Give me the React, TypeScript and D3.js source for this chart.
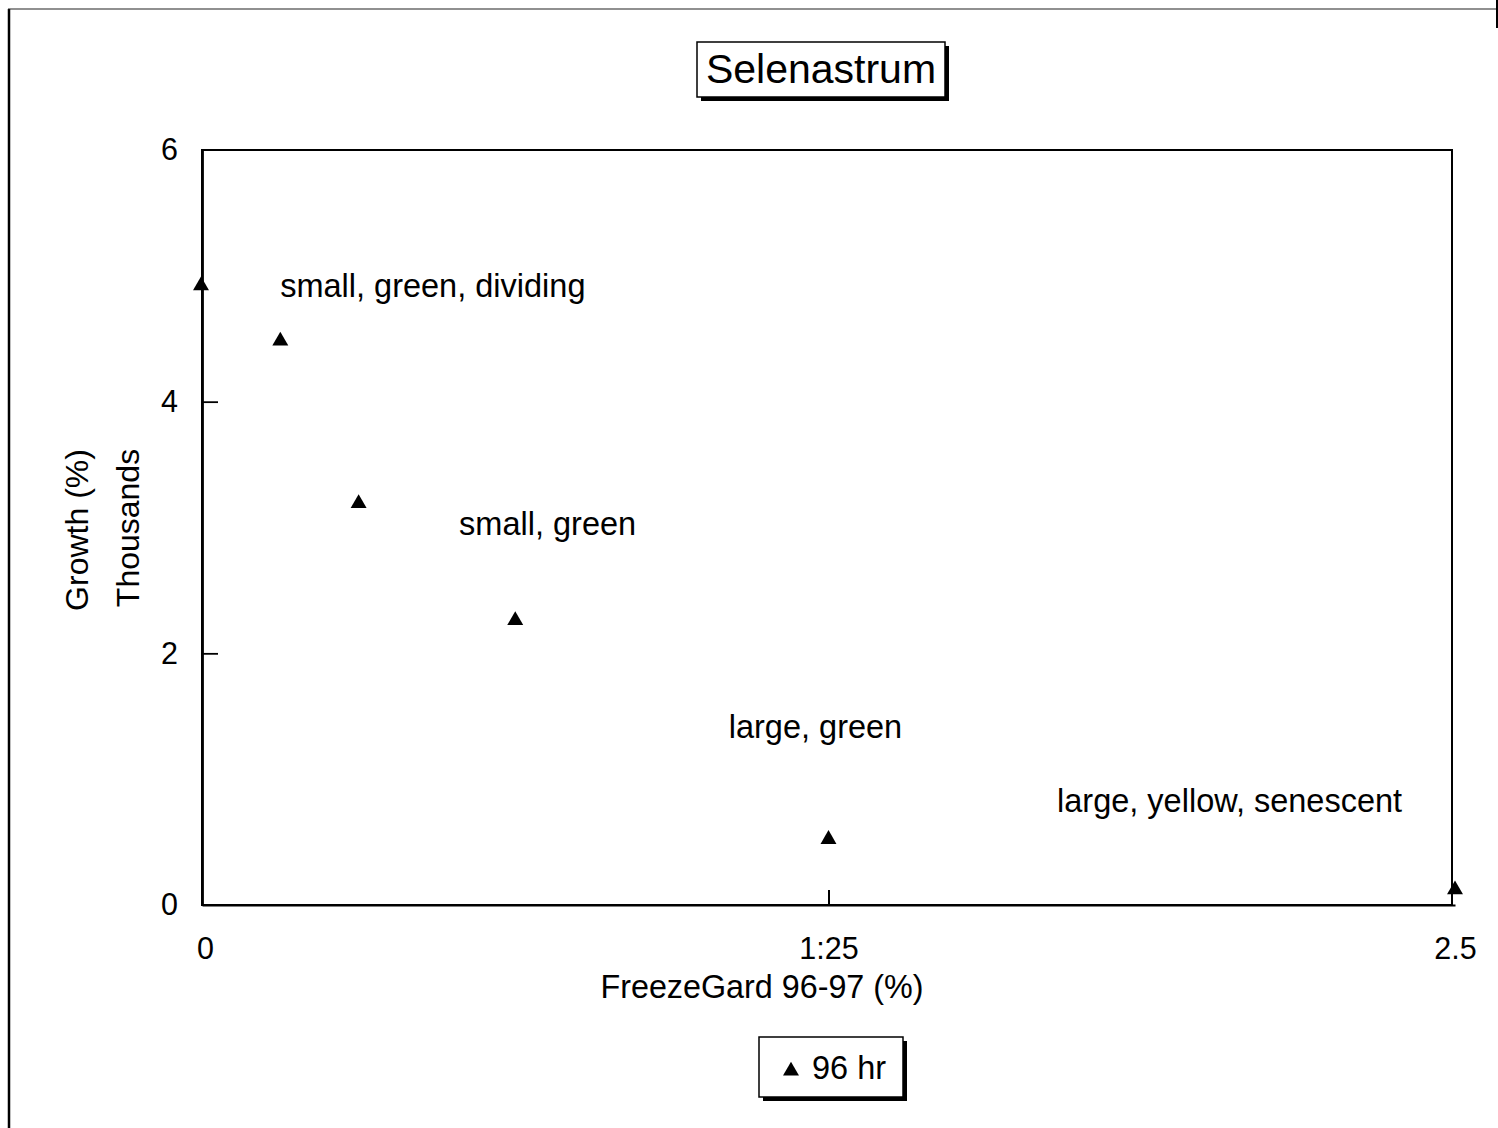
import React, { useEffect, useRef } from 'react';
import * as d3 from 'd3';

// FreezeGard concentration (%) vs growth (thousands of %) at 96 hr
const concentrations = [0, 0.15625, 0.3125, 0.625, 1.25, 2.5];
const growth96 = [4.93, 4.49, 3.2, 2.27, 0.53, 0.13];

const xTickValues = [0, 1.25, 2.5];
const xTickLabels = ['0', '1:25', '2.5'];
const yTickValues = [0, 2, 4, 6];

const noteTexts = ['small, green, dividing', 'small, green', 'large, green', 'large, yellow, senescent'];
const noteX = [0.156, 0.513, 1.051, 1.706];
const noteY = [4.83, 2.94, 1.33, 0.74];

const W = 1498;
const H = 1128;
const FONT = '"Liberation Sans", Arial, Helvetica, sans-serif';

export default function App() {
  const ref = useRef<SVGSVGElement>(null);

  useEffect(() => {
    const svg = d3.select(ref.current);
    svg.selectAll('*').remove();

    const x = d3.scaleLinear().domain([0, 2.5]).range([202, 1455]);
    const y = d3.scaleLinear().domain([0, 6]).range([905, 150]);

    // outer frame (left and top edges of the page border)
    svg.append('line').attr('x1', 9).attr('x2', 9).attr('y1', 9).attr('y2', H)
      .attr('stroke', '#000').attr('stroke-width', 2.5);
    svg.append('line').attr('x1', 8).attr('x2', W).attr('y1', 9).attr('y2', 9)
      .attr('stroke', '#222').attr('stroke-width', 1.2);
    svg.append('line').attr('x1', 1497).attr('x2', 1497).attr('y1', 0).attr('y2', 28)
      .attr('stroke', '#000').attr('stroke-width', 2);

    // plot frame
    svg.append('rect')
      .attr('x', x(0)).attr('y', y(6))
      .attr('width', x(2.5) - x(0) - 3).attr('height', y(0) - y(6))
      .attr('fill', 'none').attr('stroke', '#000').attr('stroke-width', 2);

    const xAxis = svg.append('g')
      .attr('transform', `translate(0, ${y(0)})`)
      .call(d3.axisBottom(x).tickValues(xTickValues)
        .tickFormat((_d, i) => xTickLabels[i]).tickSizeInner(-15).tickSizeOuter(0).tickPadding(32));
    xAxis.select('.domain').attr('stroke-width', 2.2);
    xAxis.selectAll('.tick line').attr('stroke-width', 2);
    xAxis.selectAll('.tick line').filter((d: any) => d === 0 || d === 2.5).remove();
    xAxis.selectAll('text').attr('font-size', 30.5).attr('font-family', FONT).attr('fill', '#000');
    xAxis.selectAll('text').filter((d: any) => d === 0).attr('dx', 3);

    const yAxis = svg.append('g')
      .attr('transform', `translate(${x(0)}, 0)`)
      .call(d3.axisLeft(y).tickValues(yTickValues).tickFormat(d3.format('d'))
        .tickSizeInner(-16).tickSizeOuter(0).tickPadding(24));
    yAxis.select('.domain').attr('stroke-width', 2.8);
    yAxis.selectAll('.tick line').attr('stroke-width', 1.8);
    yAxis.selectAll('.tick line').filter((d: any) => d === 0 || d === 6).remove();
    yAxis.selectAll('text').attr('font-size', 30.5).attr('font-family', FONT).attr('fill', '#000');

    // axis titles
    svg.append('text').attr('x', 762).attr('y', 998).attr('text-anchor', 'middle')
      .attr('font-size', 32.3).attr('font-family', FONT).text('FreezeGard 96-97 (%)');
    svg.append('text').attr('transform', 'translate(88, 530) rotate(-90)').attr('text-anchor', 'middle')
      .attr('font-size', 32).attr('font-family', FONT).text('Growth (%)');
    svg.append('text').attr('transform', 'translate(139, 528) rotate(-90)').attr('text-anchor', 'middle')
      .attr('font-size', 32).attr('font-family', FONT).text('Thousands');

    // points
    const tri = d3.symbol().type(d3.symbolTriangle).size(110);
    svg.append('g').selectAll('path')
      .data(concentrations)
      .enter().append('path')
      .attr('d', tri)
      .attr('transform', (d, i) => `translate(${x(d) - (d === 0 ? 1 : 0)}, ${y(growth96[i]) + 1})`)
      .attr('fill', '#000');

    // notes
    svg.append('g').selectAll('text')
      .data(noteTexts)
      .enter().append('text')
      .attr('x', (_d, i) => x(noteX[i]))
      .attr('y', (_d, i) => y(noteY[i]))
      .attr('font-size', 32.5).attr('font-family', FONT)
      .text(d => d);

    // title box with shadow
    svg.append('rect').attr('x', 701).attr('y', 46).attr('width', 248).attr('height', 55).attr('fill', '#000');
    svg.append('rect').attr('x', 697).attr('y', 42).attr('width', 248).attr('height', 55)
      .attr('fill', '#fff').attr('stroke', '#000').attr('stroke-width', 1.5);
    svg.append('text').attr('x', 821).attr('y', 83).attr('text-anchor', 'middle')
      .attr('font-size', 41).attr('font-family', FONT).text('Selenastrum');

    // legend box with shadow
    svg.append('rect').attr('x', 763).attr('y', 1041).attr('width', 144).attr('height', 60).attr('fill', '#000');
    svg.append('rect').attr('x', 759).attr('y', 1037).attr('width', 144).attr('height', 60)
      .attr('fill', '#fff').attr('stroke', '#000').attr('stroke-width', 1.5);
    svg.append('path').attr('d', tri).attr('transform', 'translate(791, 1071)').attr('fill', '#000');
    svg.append('text').attr('x', 812).attr('y', 1079)
      .attr('font-size', 32.5).attr('font-family', FONT).text('96 hr');
  }, []);

  return (
    <svg ref={ref} width={W} height={H}
      style={{ position: 'absolute', left: 0, top: 0, background: '#fff' }} />
  );
}
